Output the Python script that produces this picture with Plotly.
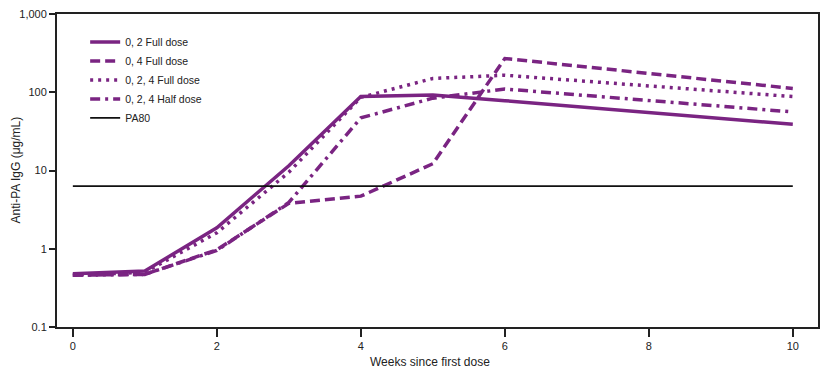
import plotly.graph_objects as go

weeks = [0, 1, 2, 3, 4, 5, 6, 10]
full_0_2 = [0.48, 0.52, 1.85, 11.5, 88, 92, 78, 39]
full_0_4 = [0.46, 0.47, 0.97, 3.8, 4.7, 12.2, 270, 112]
full_0_2_4 = [0.46, 0.50, 1.6, 9.5, 86, 150, 165, 88]
half_0_2_4 = [0.46, 0.47, 0.95, 3.9, 47, 84, 110, 56]
pa80_weeks = [0, 10]
pa80_vals = [6.3, 6.3]

names = ["0, 2 Full dose", "0, 4 Full dose", "0, 2, 4 Full dose", "0, 2, 4 Half dose"]
series = [full_0_2, full_0_4, full_0_2_4, half_0_2_4]
dashes = ["solid", "10px,5px", "3px,5px", "10px,5px,3px,5px"]
purple = "#7A2482"
FONT = "Liberation Sans, Arial, sans-serif"

fig = go.Figure()
for n, s, d in zip(names, series, dashes):
    fig.add_trace(go.Scatter(x=weeks, y=s, mode="lines", name=n,
                             line=dict(color=purple, width=3.5, dash=d)))
fig.add_trace(go.Scatter(x=pa80_weeks, y=pa80_vals, mode="lines", name="PA80",
                         line=dict(color="#111111", width=1.8)))

fig.update_layout(
    width=830, height=376,
    margin=dict(l=49, r=20, t=6, b=57),
    paper_bgcolor="white", plot_bgcolor="white",
    font=dict(family=FONT, size=11, color="#222"),
    showlegend=True,
    legend=dict(x=0.037, y=0.957, xanchor="left", yanchor="top",
                bgcolor="rgba(0,0,0,0)", itemwidth=30,
                font=dict(family=FONT, size=10.5), tracegroupgap=0),
    xaxis=dict(range=[-0.22, 10.35], tickvals=[0, 2, 4, 6, 8, 10],
               showgrid=False, zeroline=False, showline=True, linecolor="#222",
               linewidth=2, mirror=True, ticks="outside", ticklen=8, tickwidth=2,
               tickcolor="#222", automargin=False),
    yaxis=dict(type="log", range=[-1, 3], tickvals=[0.1, 1, 10, 100, 1000],
               ticktext=["0.1", "1", "10", "100", "1,000"],
               showgrid=False, zeroline=False, showline=True, linecolor="#222",
               linewidth=2, mirror=True, ticks="outside", ticklen=6, tickwidth=2,
               tickcolor="#222", automargin=False, ticklabeloverflow="allow"),
    annotations=[
        dict(text="Anti-PA IgG (μg/mL)", xref="paper", yref="paper",
             x=0, xshift=-42, y=0.5, xanchor="center", yanchor="middle",
             textangle=-90, showarrow=False, font=dict(size=12)),
        dict(text="Weeks since first dose", xref="paper", yref="paper",
             x=0.49, y=0, yshift=-35, xanchor="center", yanchor="middle",
             showarrow=False, font=dict(size=12)),
    ],
)

fig.write_html("out.html")
